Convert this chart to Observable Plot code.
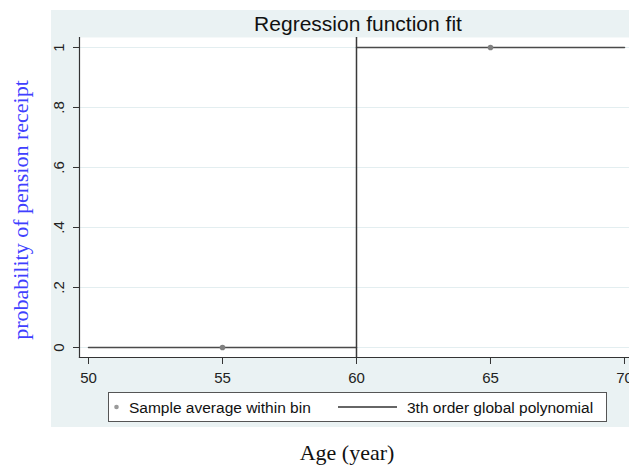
<!DOCTYPE html>
<html>
<head>
<meta charset="utf-8">
<script src="https://cdn.jsdelivr.net/npm/d3@7"></script>
<script src="https://cdn.jsdelivr.net/npm/@observablehq/plot@0.6"></script>
<style>
  html, body { margin: 0; padding: 0; background: white; }
  #chart { width: 629px; height: 465px; }
</style>
</head>
<body>
<div id="chart"></div>
<script>
// ---- data ----
const binAge = [55, 65];
const binMean = [0, 1];
const fitLeftAge = [50, 60];
const fitLeftVal = [0, 0];
const fitRightAge = [60, 70];
const fitRightVal = [1, 1];
const cutoffAge = [60];
const xTicks = [50, 55, 60, 65, 70];
const yTicks = [0, 0.2, 0.4, 0.6, 0.8, 1];
const yTickLabels = ["0", ".2", ".4", ".6", ".8", "1"];
const titleText = "Regression function fit";
const xLabel = "Age (year)";
const yLabel = "probability of pension receipt";
const legendLabels = ["Sample average within bin", "3th order global polynomial"];

const bins = binAge.map((a, i) => ({age: a, p: binMean[i]}));
const fitLeft = fitLeftAge.map((a, i) => ({age: a, p: fitLeftVal[i]}));
const fitRight = fitRightAge.map((a, i) => ({age: a, p: fitRightVal[i]}));

const W = 629, H = 465;
const sans = "'Liberation Sans', Arial, sans-serif";
const serif = "'Liberation Serif', 'Times New Roman', serif";
const lineColor = "#4a4a4a";

const chart = Plot.plot({
  width: W,
  height: H,
  marginLeft: 79,
  marginTop: 37,
  marginRight: 0,
  marginBottom: 108,
  style: {background: "white", fontFamily: sans, color: "#222", overflow: "visible"},
  x: {domain: [49.664, 70.187]},
  y: {domain: [-0.0333, 1.0333]},
  marks: [
    Plot.frame({fill: "white", stroke: "none"}),
    Plot.gridY(yTicks, {stroke: "#e3eef0", strokeOpacity: 1, strokeWidth: 1}),
    Plot.line(fitLeft, {x: "age", y: "p", stroke: lineColor, strokeWidth: 1.5}),
    Plot.line(fitRight, {x: "age", y: "p", stroke: lineColor, strokeWidth: 1.5}),
    Plot.ruleX(cutoffAge, {stroke: "#3a3a3a", strokeWidth: 1.5}),
    Plot.dot(bins, {x: "age", y: "p", r: 2.8, fill: "#808080", stroke: "none"}),
    Plot.frame({anchor: "left", stroke: "#333", strokeWidth: 1.2}),
    Plot.frame({anchor: "bottom", stroke: "#333", strokeWidth: 1.2}),
    Plot.axisX(xTicks, {tickSize: 7, tickPadding: 8, fontSize: 15, stroke: "#333", fill: "#222", label: null}),
    Plot.axisY(yTicks, {tickSize: 6, tickPadding: 10, tickRotate: -90, fontSize: 15,
      tickFormat: (d) => yTickLabels[yTicks.indexOf(d)], stroke: "#333", fill: "#222", label: null})
  ]
});

const svg = d3.select(chart);
// outer Stata-like background
svg.insert("rect", ":first-child")
  .attr("x", 51).attr("y", 10).attr("width", W - 51).attr("height", 417)
  .attr("fill", "#eaf2f3");

// title
svg.append("text")
  .attr("x", 358).attr("y", 31)
  .attr("text-anchor", "middle")
  .style("font-family", sans).style("font-size", "21px").attr("fill", "#111")
  .text(titleText);

// y label
svg.append("text")
  .attr("transform", "translate(28,210) rotate(-90)")
  .attr("text-anchor", "middle")
  .style("font-family", serif).style("font-size", "22px").attr("fill", "#4040ff")
  .text(yLabel);

// x label
svg.append("text")
  .attr("x", 347).attr("y", 460)
  .attr("text-anchor", "middle")
  .style("font-family", serif).style("font-size", "22px").attr("fill", "#111")
  .text(xLabel);

// legend
const lg = svg.append("g").attr("text-anchor", "start");
lg.append("rect").attr("x", 108.5).attr("y", 392.5).attr("width", 498).attr("height", 29)
  .attr("fill", "white").attr("stroke", "#555").attr("stroke-width", 1);
lg.append("circle").attr("cx", 116.5).attr("cy", 407).attr("r", 2.3).attr("fill", "#9a9a9a");
lg.append("text").attr("x", 129).attr("y", 412.5).attr("text-anchor", "start")
  .style("font-family", sans).style("font-size", "15.5px").attr("fill", "#111")
  .text(legendLabels[0]);
lg.append("line").attr("x1", 338).attr("x2", 397).attr("y1", 407).attr("y2", 407)
  .attr("stroke", "#333").attr("stroke-width", 1.3);
lg.append("text").attr("x", 407).attr("y", 412.5).attr("text-anchor", "start")
  .style("font-family", sans).style("font-size", "15.5px").attr("fill", "#111")
  .text(legendLabels[1]);

document.getElementById("chart").appendChild(chart);
</script>
</body>
</html>
